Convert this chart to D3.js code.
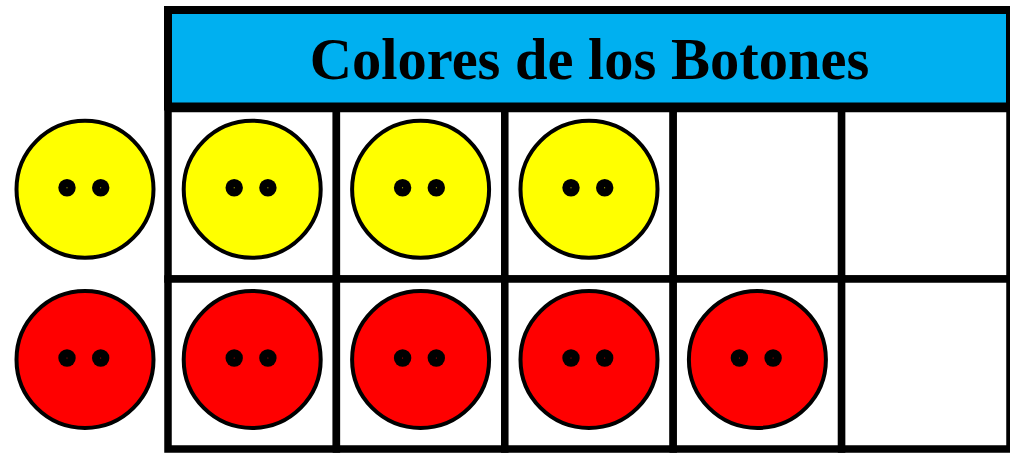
<!DOCTYPE html>
<html>
<head>
<meta charset="utf-8">
<script src="https://cdn.jsdelivr.net/npm/d3@7"></script>
<style>
  html, body { margin: 0; padding: 0; background: #fff; overflow: hidden; }
</style>
</head>
<body>
<div id="chart"></div>
<script>
const title = "Colores de los Botones";
const rowNames = ["Amarillo", "Rojo"];
const rowColors = ["#ffff00", "#ff0000"];
const counts = [3, 4];
const columns = [0, 1, 2, 3, 4];

const width = 1010, height = 453;

const svg = d3.select("#chart")
  .append("svg")
  .attr("width", width)
  .attr("height", height)
  .style("display", "block");

// grid scales
const x = d3.scaleBand().domain(columns).range([168, 1010]);
const y = d3.scaleLinear().domain([0, 1, 2]).range([108.5, 279, 449]);

svg.append("rect")
  .attr("x", 168).attr("y", 10)
  .attr("width", 842).attr("height", 96.5)
  .attr("fill", "#00b0f0")
  .attr("stroke", "#000").attr("stroke-width", 8);

svg.append("text")
  .attr("x", 589.5).attr("y", 79)
  .attr("text-anchor", "middle")
  .attr("font-family", "Liberation Serif")
  .attr("font-weight", "bold")
  .attr("font-size", 58.5)
  .text(title);

rowNames.forEach((name, i) => {
  svg.selectAll("rect.c" + i)
    .data(columns)
    .enter()
    .append("rect")
    .attr("class", "c" + i)
    .attr("x", d => x(d))
    .attr("y", y(i))
    .attr("width", x.bandwidth())
    .attr("height", y(i + 1) - y(i))
    .attr("fill", "#fff")
    .attr("stroke", "#000")
    .attr("stroke-width", 7.5);
});

function button(cx, cy, color) {
  const g = svg.append("g").attr("transform", `translate(${cx},${cy})`);
  g.append("circle").attr("r", 68.5)
    .attr("fill", color).attr("stroke", "#000").attr("stroke-width", 4);
  g.selectAll("circle.hole").data([-18, 15.7]).enter().append("circle")
    .attr("class", "hole")
    .attr("cx", d => d).attr("cy", -1.5).attr("r", 8.7).attr("fill", "#000");
  // pinhole of the button colour in each hole
  g.selectAll("circle.pin").data([-18, 15.7]).enter().append("circle")
    .attr("class", "pin")
    .attr("cx", d => d).attr("cy", -1.5).attr("r", 0.5).attr("fill", color);
}

rowNames.forEach((name, i) => {
  const cy = (y(i) + y(i + 1)) / 2 - 4.5;
  // key button left of the grid
  button(85, cy, rowColors[i]);
  d3.range(counts[i]).forEach(j => {
    button(x(j) + x.bandwidth() / 2, cy, rowColors[i]);
  });
});
</script>
</body>
</html>
